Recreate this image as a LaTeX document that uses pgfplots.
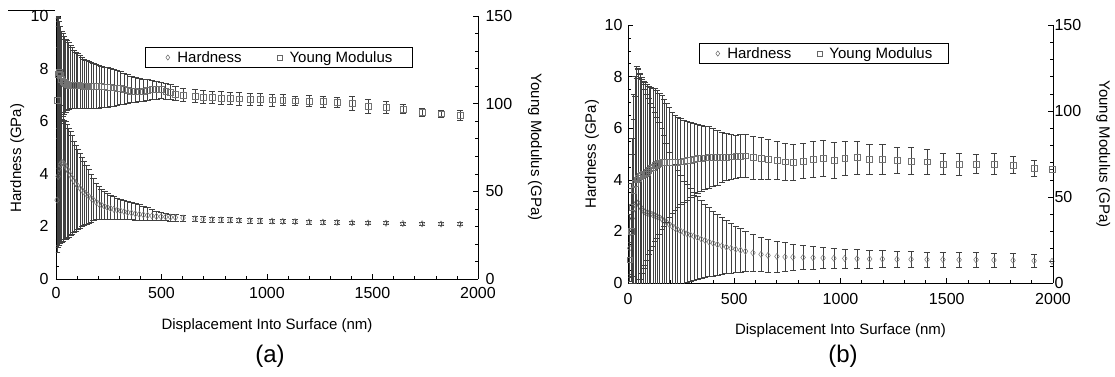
\documentclass[border=0pt]{standalone}
\usepackage{fontspec}
\setmainfont{Liberation Sans}
\usepackage{pgfplots}
\usepackage{pgfplotstable}
\pgfplotsset{compat=1.18}

% (a) Hardness (GPa): x, mean, lower, upper
\pgfplotstableread{
x y lo hi
5 3.00 1.00 9.60
10 3.90 1.20 9.90
15 4.20 1.30 8.80
20 4.35 1.35 7.60
26 4.42 1.40 6.60
32 4.42 1.45 6.20
38 4.38 1.50 6.05
45 4.30 1.53 6.00
52 4.20 1.56 5.90
60 4.08 1.60 5.75
68 3.96 1.65 5.60
76 3.85 1.70 5.45
85 3.73 1.76 5.25
94 3.63 1.82 5.10
103 3.54 1.88 4.95
113 3.46 1.94 4.80
123 3.38 2.00 4.62
133 3.31 2.04 4.47
144 3.23 2.09 4.32
155 3.15 2.13 4.17
166 3.08 2.17 4.00
178 3.00 2.22 3.82
190 2.93 2.26 3.65
203 2.86 2.28 3.52
216 2.81 2.28 3.43
230 2.76 2.28 3.35
244 2.72 2.28 3.27
259 2.68 2.28 3.20
274 2.65 2.28 3.13
290 2.62 2.28 3.08
306 2.59 2.28 3.04
323 2.56 2.27 3.00
340 2.53 2.27 2.95
358 2.51 2.26 2.91
376 2.48 2.25 2.87
395 2.46 2.25 2.83
414 2.44 2.24 2.78
434 2.42 2.24 2.72
455 2.40 2.23 2.65
476 2.38 2.23 2.58
498 2.37 2.22 2.54
520 2.36 2.22 2.51
543 2.35 2.21 2.48
566 2.34 2.21 2.46
602 2.32 2.20 2.44
659 2.29 2.18 2.40
697 2.27 2.17 2.38
739 2.26 2.16 2.36
782 2.25 2.15 2.35
825 2.24 2.14 2.34
867 2.23 2.14 2.32
919 2.22 2.13 2.31
967 2.21 2.12 2.30
1024 2.20 2.12 2.28
1075 2.19 2.11 2.27
1133 2.18 2.11 2.26
1199 2.17 2.10 2.25
1265 2.16 2.10 2.23
1332 2.15 2.09 2.22
1403 2.14 2.09 2.20
1479 2.13 2.08 2.19
1564 2.12 2.07 2.18
1644 2.11 2.06 2.17
1735 2.10 2.05 2.16
1825 2.09 2.04 2.15
1915 2.08 2.03 2.14
}\tHa

% (a) Young modulus (GPa): x, mean, lower, upper
\pgfplotstableread{
x y lo hi
5 102 60 150
10 117 80 149.5
15 118 86 147
20 116 89 144
26 114 91 141.5
32 113 93 140
38 112 94 138.5
45 111.5 95 137
52 111 96 136
60 110.5 97 135
68 110.5 97.5 133.5
76 110.5 97.5 132
85 110.5 97.5 130.5
94 110.5 97.5 129.5
103 110.5 97.5 128.5
113 110.3 97.5 127.5
123 110.2 97.5 126.5
133 110.1 97.5 125.5
144 110 97.5 124.5
155 110 97.5 124
166 110 97.5 123.5
178 110 97.5 123
190 110 97.5 122.5
203 110 97.5 122
216 109.8 97.7 121.5
230 109.6 98 121
244 109.5 98.2 120.5
259 109.3 98.5 120
274 109.1 98.8 119.5
290 108.9 99.1 119
306 108.7 99.4 118.5
323 108.3 99.8 117.5
340 107.8 100.2 116.5
358 107.3 100.6 115.5
376 107 101 115
395 106.8 101.3 114.5
414 107.2 101.6 114
434 107.6 102 113.8
455 108 102.4 113.5
476 108.3 102.8 113
498 108 103 112.5
520 107.3 102.8 111.8
543 106.3 102.4 110.8
566 105.6 102 110
602 105 101.5 109
659 104.2 100.8 108
697 103.8 100.4 107.5
739 103.5 100 107.2
782 103.3 99.8 106.8
825 103 99.5 106.5
867 102.8 99.3 106.3
919 102.6 99.2 106
967 102.4 99 105.8
1024 102.2 98.8 105.6
1075 102 99 105.3
1133 101.7 99 104.5
1199 101.5 98.5 105
1265 101.2 98.2 104.5
1332 100.8 98.2 103.6
1403 100.2 96.5 104
1479 98.5 94.5 102.8
1564 97.8 94.3 101.5
1644 96.8 94.5 99.5
1735 95.2 93 97.5
1825 94.2 92.5 96
1915 93.2 90.3 96.3
}\tYa

% (b) Hardness (GPa): x, mean, error
\pgfplotstableread{
x y e
8 1.35 1.3
14 1.95 1.9
20 2.50 2.5
27 2.85 3.5
34 3.05 4.2
41 3.12 4.8
48 3.10 5.2
56 2.98 5.1
64 2.88 5.0
72 2.80 4.9
80 2.75 4.75
89 2.72 4.6
98 2.70 4.45
107 2.68 4.3
117 2.65 4.15
127 2.62 4.0
137 2.58 3.85
148 2.54 3.7
159 2.48 3.5
170 2.42 3.3
182 2.35 3.05
194 2.28 2.8
207 2.21 2.6
220 2.14 2.45
234 2.07 2.3
248 2.01 2.15
263 1.96 2.0
278 1.91 1.9
294 1.86 1.8
310 1.82 1.7
327 1.76 1.6
345 1.70 1.5
363 1.65 1.42
382 1.59 1.33
401 1.54 1.26
421 1.49 1.18
442 1.44 1.1
463 1.39 1.03
485 1.35 0.97
507 1.31 0.9
530 1.27 0.84
553 1.23 0.78
588 1.17 0.72
626 1.11 0.67
659 1.07 0.64
701 1.03 0.6
739 1.01 0.56
776 1.00 0.5
824 0.99 0.46
871 0.98 0.43
918 0.97 0.4
969 0.96 0.38
1020 0.95 0.37
1078 0.94 0.36
1137 0.93 0.34
1197 0.93 0.33
1266 0.92 0.32
1332 0.92 0.31
1407 0.91 0.3
1482 0.91 0.3
1558 0.90 0.29
1638 0.90 0.28
1722 0.89 0.27
1812 0.88 0.26
1911 0.86 0.25
1995 0.84 0.0
}\tHb

% (b) Young modulus (GPa): x, mean, error
\pgfplotstableread{
x y e
8 13.5 10
14 30 25
20 44 40
27 54 56
34 58 62
41 60 66
48 61 64
56 62 60
64 62.5 57
72 63 54.5
80 63.5 53
89 64.5 51
98 65.5 49
107 66.5 47.5
117 67.5 46
127 68.5 44.5
137 69 43
148 69.5 41
159 70 39
170 70 37
182 70 34.5
194 70 32
207 70 29.5
220 70 27.5
234 70.2 26
248 70.5 25
263 70.8 24
278 71.2 23
294 71.6 22
310 72 21
327 72.3 20
345 72.6 19
363 72.8 18.5
382 73 18
401 73 17
421 73 16
442 73.2 14.5
463 73.3 13.5
485 73.4 13
507 73.5 12.5
530 73.8 12.5
553 74 12.5
588 73 12.5
626 72.5 12
659 72 11.5
701 71.3 11
739 70.5 11
776 70 10.5
824 71 10
871 72 10.5
918 72.5 10.5
969 71.5 10.5
1020 72.5 10
1078 73 9.5
1137 72 8.5
1197 72 8.5
1266 71.2 7.5
1332 71 8
1407 70.5 7
1482 69.2 6
1558 69.2 6.5
1638 69.2 5.5
1722 69.2 6
1812 68.6 5
1911 66.7 4.8
1995 66.1 0
}\tYb

\pgfplotsset{
  base/.style={
    scale only axis,
    xmin=0, xmax=2000,
    tick align=inside,
    major tick length=5pt, minor tick length=3pt,
    every tick/.style={black, line width=0.6pt},
    axis line style={black, line width=0.8pt},
    tick label style={font=\fontsize{16}{18}\selectfont},
    label style={font=\fontsize{15}{17}\selectfont},
    /pgf/number format/assume math mode=true,
    /pgf/number format/1000 sep={},
  },
  leftax/.style={
    base,
    ymin=0, ymax=10, ytick={0,2,...,10}, minor y tick num=3,
    xtick={0,500,...,2000}, minor x tick num=4,
    axis x line*=bottom, axis y line*=left,
    xlabel={Displacement Into Surface (nm)}, ylabel={Hardness (GPa)},
    legend columns=2,
    legend cell align=left,
    legend image code/.code={\path[draw=none,fill=none] (0pt,-1pt) rectangle (12pt,1pt); \draw[##1] plot coordinates {(4.5pt,0pt)};},
    legend style={draw=black, line width=0.6pt, font=\fontsize{15}{17}\selectfont,
      anchor=north west, inner ysep=2pt},
  },
  rightax/.style={
    base,
    ymin=0, ymax=150, ytick={0,50,...,150}, minor y tick num=4,
    axis y line*=right, axis x line=none,
    ylabel={Young Modulus (GPa)},
  },
  errcommon/.style={
    error bars/y dir=both, error bars/y explicit,
    error bars/error bar style={black!75, line width=0.5pt},
    error bars/error mark options={rotate=90, mark size=3.2pt, black!75, line width=0.5pt}},
  herr/.style={only marks, mark=diamond, mark size=3.1pt,
    mark options={draw=black!55, line width=0.5pt}, errcommon},
  yerr/.style={only marks, mark=square, mark size=2.9pt,
    mark options={draw=black!55, line width=0.5pt}, errcommon},
}

\begin{document}
\begin{tikzpicture}
\path[use as bounding box] (0pt,0pt) rectangle (1115pt,376pt);

% ---------- (a) ----------
\begin{axis}[leftax, at={(56pt,97pt)}, anchor=south west, width=422pt, height=263pt,
  xticklabel style={yshift=-5pt}, yticklabel style={xshift=-4pt},
  xlabel style={at={(axis description cs:0.5,-0.179)}, anchor=center},
  ylabel style={at={(axis description cs:-0.092,0.46)}, anchor=center},
  legend style={at={(axis description cs:0.211,0.882)}, inner xsep=18pt,
    /tikz/every even column/.append style={column sep=32pt}}]
\addplot[forget plot, herr] table[x=x, y=y,
  y error plus expr=\thisrow{hi}-\thisrow{y},
  y error minus expr=\thisrow{y}-\thisrow{lo}] {\tHa};
\addlegendimage{only marks, mark=diamond, mark size=2.6pt, mark options={draw=black!60, line width=0.5pt}}
\addlegendentry{Hardness}
\addlegendimage{only marks, mark=square, mark size=2.3pt, mark options={draw=black!60, line width=0.5pt}}
\addlegendentry{Young Modulus}
\end{axis}
\begin{axis}[rightax, at={(56pt,97pt)}, anchor=south west, width=422pt, height=263pt,
  yticklabel style={xshift=4pt},
  ylabel style={at={(axis description cs:1.135,0.5)}, anchor=center, rotate=180}]
\addplot[yerr] table[x=x, y=y,
  y error plus expr=\thisrow{hi}-\thisrow{y},
  y error minus expr=\thisrow{y}-\thisrow{lo}] {\tYa};
\end{axis}

% ---------- (b) ----------
\begin{axis}[leftax, at={(628pt,93pt)}, anchor=south west, width=425pt, height=258pt,
  xticklabel style={yshift=-7pt}, yticklabel style={xshift=-2pt},
  xlabel style={at={(axis description cs:0.5,-0.186)}, anchor=center},
  ylabel style={at={(axis description cs:-0.085,0.5)}, anchor=center},
  legend style={at={(axis description cs:0.167,0.930)}, inner xsep=14pt,
    /tikz/every even column/.append style={column sep=22pt}}]
\addplot[forget plot, herr] table[x=x, y=y, y error=e] {\tHb};
\addlegendimage{only marks, mark=diamond, mark size=2.6pt, mark options={draw=black!60, line width=0.5pt}}
\addlegendentry{Hardness}
\addlegendimage{only marks, mark=square, mark size=2.3pt, mark options={draw=black!60, line width=0.5pt}}
\addlegendentry{Young Modulus}
\end{axis}
\begin{axis}[rightax, at={(628pt,93pt)}, anchor=south west, width=425pt, height=258pt,
  yticklabel style={xshift=-2pt},
  ylabel style={at={(axis description cs:1.118,0.5)}, anchor=center, rotate=180}]
\addplot[yerr] table[x=x, y=y, y error=e] {\tYb};
\end{axis}

\draw[line width=0.8pt] (8pt,366pt) -- (55pt,366pt);
\node[font=\fontsize{24}{26}\selectfont] at (270pt,20pt) {(a)};
\node[font=\fontsize{24}{26}\selectfont] at (843pt,20pt) {(b)};
\end{tikzpicture}
\end{document}
